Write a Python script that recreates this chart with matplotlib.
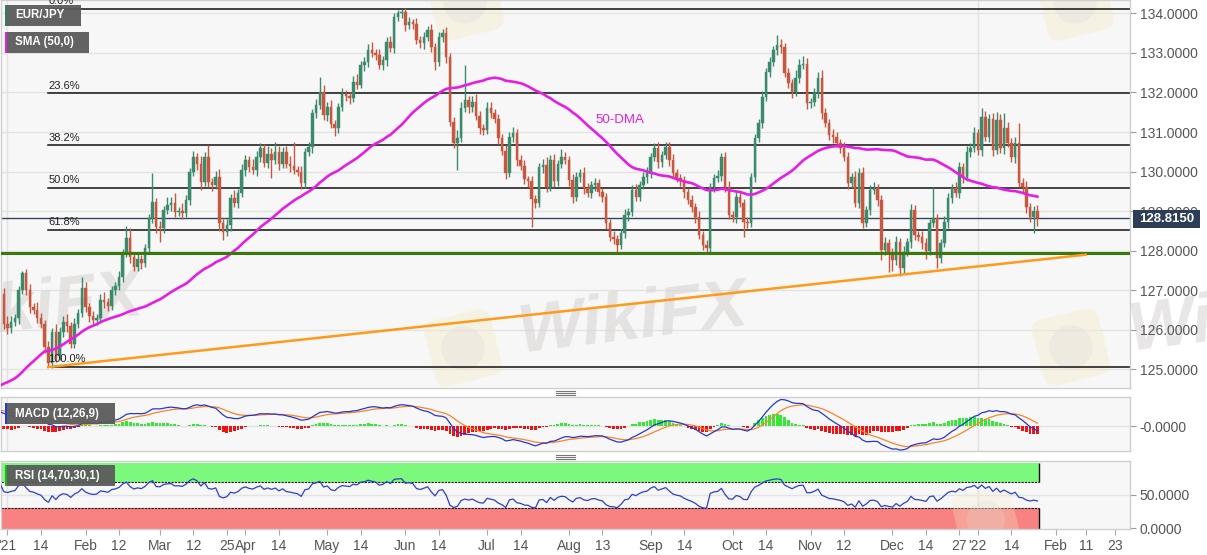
import numpy as np
import pandas as pd
import matplotlib
matplotlib.use("Agg")
import matplotlib.pyplot as plt
import matplotlib.transforms as mtransforms
from matplotlib.patches import Rectangle, FancyBboxPatch, Circle
from matplotlib.lines import Line2D

plt.rcParams['font.family'] = ['Liberation Sans', 'DejaVu Sans']

# ---------------- data ----------------
# warm-up closes (Oct 1 - Dec 30, 2020), only used for the indicators
prior_closes = [
    123.6, 123.8, 123.9, 124.2, 124.5, 124.3, 124.6, 124.5, 124.3, 124.2,
    123.9, 123.6, 123.5, 123.3, 123.6, 123.9, 124.1, 123.9, 123.7, 123.4,
    122.9, 122.0,
    122.2, 122.4, 122.0, 121.8, 121.7, 124.6, 124.5, 124.0, 123.5, 123.2,
    122.9, 122.7, 123.1, 123.4, 123.3, 123.6, 123.8, 124.2, 124.4, 124.3,
    124.6,
    124.9, 125.3, 125.6, 125.9, 126.2, 126.3, 126.0, 126.1, 126.2, 126.4,
    126.7, 126.5, 126.9, 126.3, 126.4, 126.1, 125.9, 126.1, 126.2, 126.3,
    126.4, 126.9,
]

# daily closes, Dec 31 2020 -> Jan 25 2022
closes = [
    126.15,
    126.05, 126.2, 126.3, 127.0, 127.43, 127.0, 126.58, 126.5, 126.3, 126.15,
    125.57, 125.16, 125.95, 125.35, 125.95, 126.2, 126.1, 125.65, 126.15, 126.42,
    127.05, 126.58, 126.35, 126.24, 126.3, 126.76, 126.7, 126.6, 127.0, 127.1,
    127.33, 127.94, 128.32, 127.85, 127.6, 127.78, 127.7, 128.06, 128.82, 129.22,
    128.6, 128.57, 129.03, 129.16, 129.2, 128.98, 129.0, 128.95, 129.28, 129.99,
    130.37, 130.2, 129.73, 130.37, 129.73, 129.66, 129.86, 128.7, 128.48, 128.65,
    129.33, 129.2, 129.45, 130.04, 130.3, 130.12, 130.05, 130.37, 130.6, 130.22,
    130.45, 130.3, 130.5, 130.2, 130.5, 130.2, 130.15, 130.05, 129.98, 129.7,
    130.5, 130.62, 131.48, 131.68, 132.0, 131.43, 131.62, 131.2, 131.1, 131.62,
    131.95, 131.9, 131.85, 132.26, 132.2, 132.7, 132.77, 133.07, 132.99, 132.94,
    132.69, 132.82, 133.27, 133.12, 133.9, 134.0, 134.03, 133.7, 133.78, 133.72,
    133.33, 133.25, 133.4, 133.57, 133.15, 132.77, 133.4, 133.5, 132.9, 131.26,
    130.72, 130.86, 131.6, 131.8, 131.62, 131.75, 131.4, 131.1, 131.05, 131.6,
    131.47, 131.33, 130.84, 130.53, 129.96, 130.87, 130.97, 130.29, 130.15, 129.8,
    129.75, 129.3, 129.2, 130.11, 130.16, 129.6, 130.3, 129.75, 130.2, 130.37,
    130.3, 129.79, 129.36, 129.86, 129.96, 129.58, 129.45, 129.66, 129.7, 129.48,
    129.35, 128.7, 128.35, 128.3, 128.14, 128.44, 128.9, 128.98, 129.54, 129.37,
    129.66, 129.86, 129.96, 130.37, 130.6, 130.24, 130.42, 130.62, 130.29, 129.96,
    129.83, 129.75, 129.48, 129.28, 129.1, 128.85, 128.4, 128.15, 128.07, 129.6,
    129.83, 129.9, 130.37, 129.6, 128.9, 128.85, 129.36, 129.2, 128.72, 128.7,
    129.86, 130.84, 131.24, 131.88, 132.51, 132.77, 133.07, 133.2, 133.14, 132.48,
    132.23, 132.0, 132.37, 132.69, 132.72, 131.73, 131.75, 131.98, 132.36, 131.48,
    131.22, 130.92, 130.87, 130.72, 130.6, 130.37, 129.71, 129.86, 129.2, 129.96,
    128.7, 129.03, 129.54, 129.58, 129.28, 128.02, 128.19, 127.94, 127.76, 128.22,
    127.56, 127.96, 128.22, 129.03, 128.39, 128.34, 128.19, 128.0, 128.7, 128.82,
    127.82, 128.19, 128.72, 129.33, 129.58, 129.45, 130.11, 129.86, 130.49, 130.6,
    130.98, 130.55, 131.37, 130.87, 131.33, 130.55, 131.3, 130.6, 131.1, 130.72,
    130.37, 130.72, 129.71, 129.6, 129.1, 128.85, 129.0, 128.815,
]

upper_wicks = [
    0.15,
    0.2, 0.15, 0.1, 0.1, 0.05, 0.12, 0.15, 0.1, 0.2, 0.12,
    0.1, 0.15, 0.1, 0.2, 0.12, 0.15, 0.2, 0.1, 0.15, 0.1,
    0.28, 0.15, 0.1, 0.12, 0.1, 0.15, 0.2, 0.1, 0.12, 0.1,
    0.15, 0.1, 0.3, 0.25, 0.1, 0.15, 0.1, 0.12, 0.1, 0.74,
    0.1, 0.15, 0.1, 0.2, 0.15, 0.25, 0.1, 0.2, 0.12, 0.1,
    0.15, 0.1, 0.2, 0.12, 0.3, 0.1, 0.15, 0.2, 0.1, 0.15,
    0.1, 0.2, 0.1, 0.15, 0.12, 0.1, 0.2, 0.15, 0.12, 0.1,
    0.2, 0.15, 0.25, 0.15, 0.12, 0.15, 0.2, 0.6, 0.1, 0.15,
    0.1, 0.12, 0.1, 0.15, 0.39, 0.2, 0.15, 0.2, 0.1, 0.12,
    0.15, 0.1, 0.12, 0.15, 0.2, 0.1, 0.12, 0.15, 0.2, 0.1,
    0.15, 0.1, 0.12, 0.15, 0.1, 0.08, 0.09, 0.1, 0.12, 0.08,
    0.15, 0.1, 0.12, 0.1, 0.15, 0.1, 0.12, 0.1, 0.15, 0.1,
    0.12, 0.2, 0.15, 0.89, 0.1, 0.15, 0.2, 0.12, 0.1, 0.15,
    0.15, 0.1, 0.12, 0.1, 0.15, 0.12, 0.15, 0.1, 0.12, 0.15,
    0.1, 0.15, 0.12, 0.1, 0.15, 0.2, 0.12, 0.15, 0.1, 0.2,
    0.12, 0.1, 0.15, 0.12, 0.1, 0.15, 0.12, 0.1, 0.15, 0.12,
    0.1, 0.12, 0.1, 0.15, 0.1, 0.12, 0.15, 0.1, 0.12, 0.15,
    0.1, 0.12, 0.15, 0.1, 0.12, 0.15, 0.1, 0.13, 0.12, 0.15,
    0.1, 0.12, 0.15, 0.1, 0.12, 0.1, 0.15, 0.1, 0.12, 0.1,
    0.12, 0.15, 0.1, 0.12, 0.15, 0.1, 0.12, 0.15, 0.1, 0.12,
    0.1, 0.12, 0.1, 0.15, 0.1, 0.12, 0.1, 0.25, 0.15, 0.12,
    0.15, 0.1, 0.2, 0.15, 0.2, 0.15, 0.1, 0.12, 0.15, 0.2,
    0.12, 0.1, 0.15, 0.12, 0.1, 0.15, 0.12, 0.1, 0.15, 0.12,
    0.15, 0.1, 0.12, 0.15, 0.1, 0.12, 0.15, 0.1, 0.12, 0.15,
    0.1, 0.15, 0.1, 0.15, 0.12, 0.1, 0.15, 0.12, 0.1, 0.78,
    0.12, 0.1, 0.15, 0.12, 0.1, 0.15, 0.12, 0.1, 0.15, 0.12,
    0.15, 0.1, 0.23, 0.15, 0.12, 0.15, 0.2, 0.15, 0.38, 0.15,
    0.12, 0.15, 0.5, 0.12, 0.15, 0.1, 0.12, 0.15,
]

lower_wicks = [
    0.12,
    0.15, 0.12, 0.1, 0.15, 0.1, 0.12, 0.15, 0.1, 0.12, 0.1,
    0.15, 0.09, 0.12, 0.15, 0.1, 0.12, 0.15, 0.1, 0.12, 0.1,
    0.1, 0.12, 0.15, 0.1, 0.12, 0.1, 0.15, 0.12, 0.1, 0.12,
    0.1, 0.12, 0.1, 0.15, 0.12, 0.1, 0.15, 0.12, 0.1, 0.12,
    0.15, 0.35, 0.12, 0.1, 0.15, 0.12, 0.1, 0.15, 0.1, 0.12,
    0.1, 0.15, 0.2, 0.1, 0.12, 0.15, 0.1, 0.2, 0.2, 0.12,
    0.15, 0.1, 0.12, 0.1, 0.15, 0.12, 0.1, 0.15, 0.12, 0.1,
    0.12, 0.45, 0.1, 0.15, 0.12, 0.1, 0.15, 0.12, 0.1, 0.15,
    0.12, 0.1, 0.15, 0.12, 0.1, 0.12, 0.15, 0.1, 0.2, 0.12,
    0.1, 0.12, 0.15, 0.1, 0.12, 0.1, 0.15, 0.12, 0.1, 0.12,
    0.1, 0.12, 0.15, 0.1, 0.12, 0.1, 0.12, 0.15, 0.1, 0.12,
    0.1, 0.12, 0.15, 0.1, 0.12, 0.2, 0.1, 0.12, 0.15, 0.1,
    0.12, 0.68, 0.12, 0.1, 0.15, 0.12, 0.1, 0.15, 0.12, 0.1,
    0.12, 0.1, 0.15, 0.12, 0.15, 0.1, 0.12, 0.15, 0.1, 0.12,
    0.15, 0.7, 0.12, 0.1, 0.15, 0.12, 0.1, 0.15, 0.12, 0.1,
    0.12, 0.15, 0.16, 0.1, 0.12, 0.15, 0.1, 0.12, 0.15, 0.1,
    0.12, 0.15, 0.1, 0.12, 0.17, 0.1, 0.12, 0.15, 0.1, 0.12,
    0.12, 0.1, 0.15, 0.12, 0.1, 0.15, 0.12, 0.1, 0.15, 0.12,
    0.1, 0.12, 0.15, 0.1, 0.12, 0.15, 0.1, 0.12, 0.12, 0.1,
    0.12, 0.1, 0.15, 0.12, 0.1, 0.12, 0.15, 0.1, 0.37, 0.12,
    0.1, 0.12, 0.1, 0.15, 0.1, 0.12, 0.1, 0.12, 0.15, 0.1,
    0.12, 0.15, 0.1, 0.12, 0.1, 0.15, 0.12, 0.1, 0.12, 0.15,
    0.1, 0.12, 0.15, 0.1, 0.12, 0.1, 0.15, 0.12, 0.1, 0.12,
    0.13, 0.1, 0.12, 0.1, 0.15, 0.26, 0.12, 0.49, 0.26, 0.12,
    0.21, 0.12, 0.1, 0.15, 0.12, 0.1, 0.15, 0.2, 0.12, 0.1,
    0.26, 0.12, 0.1, 0.15, 0.12, 0.1, 0.12, 0.15, 0.1, 0.12,
    0.1, 0.12, 0.15, 0.1, 0.12, 0.15, 0.1, 0.12, 0.15, 0.1,
    0.12, 0.15, 0.1, 0.12, 0.15, 0.12, 0.4, 0.2,
]

fib_high = 134.12
fib_low = 125.07
fib_ratios = [0.0, 0.236, 0.382, 0.5, 0.618, 1.0]
fib_labels = ["0.0%", "23.6%", "38.2%", "50.0%", "61.8%", "100.0%"]
fib_start_date = "2021-01-18"
support_level = 127.95
trend_dates = ["2021-01-18", "2022-02-11"]
trend_prices = [125.06, 127.9]
last_price = 128.815
price_ticks = [125, 126, 127, 128, 129, 130, 131, 132, 133, 134]

tick_dates = ['2021-01-01', '2021-01-14', '2021-02-01', '2021-02-12', '2021-03-01',
              '2021-03-12', '2021-03-25', '2021-04-01', '2021-04-14', '2021-05-03',
              '2021-05-14', '2021-06-01', '2021-06-14', '2021-07-01', '2021-07-14',
              '2021-08-02', '2021-08-13', '2021-09-01', '2021-09-14', '2021-10-01',
              '2021-10-14', '2021-11-01', '2021-11-12', '2021-12-01', '2021-12-14',
              '2021-12-27', '2022-01-03', '2022-01-14', '2022-02-01', '2022-02-11',
              '2022-02-23']
tick_labels = ["'21", "14", "Feb", "12", "Mar", "12", "25", "Apr", "14", "May",
               "14", "Jun", "14", "Jul", "14", "Aug", "13", "Sep", "14", "Oct",
               "14", "Nov", "12", "Dec", "14", "27", "'22", "14", "Feb", "11", "23"]

# ---------------- series ----------------
dates = pd.bdate_range("2020-10-01", "2022-03-31")
origin = dates.get_loc(pd.Timestamp("2021-01-01"))


def xpos(d):
    return dates.get_loc(pd.Timestamp(d)) - origin


all_close = pd.Series(prior_closes + closes, dtype=float)
n_prior = len(prior_closes)
xs_all = np.arange(len(all_close)) - origin
c = np.array(closes)
o = np.array(all_close.shift(1).iloc[n_prior:])
xv = xs_all[n_prior:]
hi = np.maximum(o, c) + np.array(upper_wicks)
lo = np.minimum(o, c) - np.array(lower_wicks)

sma = all_close.rolling(50).mean()
ema12 = all_close.ewm(span=12, adjust=False).mean()
ema26 = all_close.ewm(span=26, adjust=False).mean()
macd = ema12 - ema26
signal = macd.ewm(span=9, adjust=False).mean()
hist = macd - signal
delta = all_close.diff()
gain = delta.clip(lower=0).ewm(alpha=1 / 14, adjust=False).mean()
loss = (-delta.clip(upper=0)).ewm(alpha=1 / 14, adjust=False).mean()
rsi = 100 - 100 / (1 + gain / loss)

# ---------------- figure ----------------
W, H = 1207, 555
fig = plt.figure(figsize=(W / 100, H / 100), dpi=100)
fig.patch.set_facecolor("white")


def fx(x):
    return x / W


def fy(y):
    return 1 - y / H


x_left, x_right = -1.88, 301.9
PANEL_BG = "#f7f7f7"
SPINE = "#cfcfcf"
GRID = "#e3e3e3"
TXT = "#555555"

ax = fig.add_axes([fx(0.5), fy(388), (1130 - 0.5) / W, 388 / H])
ax2 = fig.add_axes([fx(0.5), fy(451), (1130 - 0.5) / W, 54 / H])
ax3 = fig.add_axes([fx(0.5), fy(529), (1130 - 0.5) / W, 68 / H])

for a in (ax, ax2, ax3):
    a.set_facecolor(PANEL_BG)
    a.set_xlim(x_left, x_right)
    for s in a.spines.values():
        s.set_color(SPINE)
        s.set_linewidth(1)
    a.yaxis.tick_right()
    a.tick_params(axis="y", which="both", length=4, color="#999999",
                  labelcolor=TXT, labelsize=10, pad=3, left=False)
    a.tick_params(axis="x", bottom=False, labelbottom=False)
    for d in ("2021-01-01", "2022-01-03"):
        a.axvline(xpos(d), color="#e2e2e2", lw=1, zorder=0.3)

# ---- main panel ----
ax.set_ylim(124.531, 134.336)
ax.set_yticks(price_ticks)
ax.set_yticklabels([f"{v:.4f}" for v in price_ticks])
for v in price_ticks:
    ax.axhline(v, color=GRID, lw=1, zorder=0.3)


# watermarks (pixel positions in the picture, rotated logo squares + text)
def wm_logo(a, cx, cy, size=68, alpha=0.4, z=0.35):
    t = mtransforms.Affine2D().rotate_deg_around(cx, H - cy, 14)
    a.add_artist(FancyBboxPatch((cx - size / 2, H - cy - size / 2), size, size,
                                boxstyle="round,pad=0,rounding_size=12",
                                fc="#f6ebc6", ec="none", alpha=alpha,
                                transform=t, zorder=z))
    a.add_artist(Circle((cx, H - cy), size * 0.32, fc="#dedbd7", ec="none",
                        alpha=alpha * 0.8, transform=t, zorder=z + 0.01))


def wm_text(a, cx, cy, z=0.4):
    a.text(fx(cx), fy(cy), "WikiFX", transform=fig.transFigure, fontsize=50,
           fontweight="bold", fontstyle="italic", color="#d6d1d1", alpha=0.55,
           rotation=7, ha="center", va="center", zorder=z, clip_on=False)


wm_logo(ax, 463, 348)
wm_logo(ax, 1071, 347)
wm_logo(ax, 465, 2)
wm_logo(ax, 1075, 2)
wm_text(ax, 633, 320)
wm_text(ax, 28, 310)
wm_text(ax, 1243, 318)

# candles
up_col, dn_col = "#3b8a6c", "#c8573f"
cols = np.where(c >= o, up_col, dn_col)
ax.vlines(xv, lo, hi, colors=cols, lw=1, zorder=3)
body_h = np.maximum(np.abs(c - o), 0.02)
ax.bar(xv, body_h, bottom=np.minimum(o, c), width=0.68, color=cols,
       edgecolor=cols, linewidth=0.3, zorder=3)

# SMA 50
ax.plot(xs_all, sma, color="#e41fe4", lw=1.9, zorder=4)
ax.text(164.8, 131.3, "50-DMA", color="#e41fe4", fontsize=9.5, ha="center",
        va="center", zorder=5)

# fibonacci levels
fx0 = xpos(fib_start_date)
for r, lab in zip(fib_ratios, fib_labels):
    lvl = fib_high - r * (fib_high - fib_low)
    ax.plot([fx0, x_right], [lvl, lvl], color="#111111", lw=1.1, zorder=2)
    ax.text(fx0, lvl + 0.06, lab, fontsize=8, color="#222222", ha="left",
            va="bottom", zorder=5, clip_on=True)

# last price line, support and trend line
ax.axhline(last_price, color="#34465e", lw=1, zorder=2)
ax.axhline(support_level, color="#3a7a0c", lw=2.2, zorder=4)
ax.plot([xpos(d) for d in trend_dates], trend_prices, color="#ff9a1a",
        lw=1.8, zorder=4)

# ---- MACD panel (auto range fit like the platform) ----
vis = xs_all >= x_left
vals = np.concatenate([macd[vis].values, signal[vis].values, hist[vis].values])
mx, mn = float(vals.max()), float(vals.min())
k = (mx - mn) / (450.0 - 399.5)
ax2.set_ylim(mn - 1.0 * k, mx + 2.5 * k)
ax2.axhline(0, color=GRID, lw=1, zorder=0.3)
ax2.set_yticks([0])
ax2.set_yticklabels(["-0.0000"])
hcols = np.where(hist.values >= 0, "#35e835", "#ee1414")
ax2.bar(xs_all, hist.values, width=0.75, color=hcols, zorder=2)
ax2.plot(xs_all, signal, color="#ff8226", lw=0.9, zorder=3)
ax2.plot(xs_all, macd, color="#2438d0", lw=0.9, zorder=4)

# ---- RSI panel ----
ax3.set_ylim(-1.5, 101.5)
ax3.set_yticks([0, 50])
ax3.set_yticklabels(["0.0000", "50.0000"])
ax3.axhline(50, color=GRID, lw=1, zorder=0.3)
x_end = xv[-1] + 0.5
ax3.add_patch(Rectangle((x_left, 70), x_end - x_left, 29, fc="#7cf87c",
                        ec="none", zorder=1))
ax3.add_patch(Rectangle((x_left, -1.5), x_end - x_left, 31.5, fc="#f88282",
                        ec="none", zorder=1))
ax3.plot([x_left, x_end], [70, 70], color="#111111", lw=0.8, ls=(0, (2, 1)), zorder=2)
ax3.plot([x_left, x_end], [30, 30], color="#111111", lw=0.8, ls=(0, (2, 1)), zorder=2)
ax3.vlines([x_end, x_end], [70, -1.5], [99, 30], colors="#111111", lw=1, zorder=2)
ax3.plot(xs_all, rsi, color="#2a40cc", lw=0.9, zorder=3)
wm_logo(ax3, 986, 520, size=60, alpha=0.3, z=2.5)

ax3.tick_params(axis="x", bottom=True, labelbottom=True, length=4, color="#aaaaaa",
                labelcolor=TXT, labelsize=10, pad=3)
ax3.set_xticks([xpos(d) for d in tick_dates])
ax3.set_xticklabels(tick_labels)


# ---- legend boxes ----
def legend_box(x0, y0, w, h, text, strip):
    fig.add_artist(Rectangle((fx(x0), fy(y0 + h)), w / W, h / H,
                             transform=fig.transFigure, fc="#5b5b5b",
                             ec="none", alpha=0.95, zorder=6))
    fig.add_artist(Rectangle((fx(x0), fy(y0 + h)), 2.2 / W, h / H,
                             transform=fig.transFigure, fc=strip,
                             ec="none", zorder=7))
    fig.text(fx(x0 + 10), fy(y0 + h / 2), text, color="white", fontsize=8.3,
             fontweight="bold", ha="left", va="center", zorder=8)


legend_box(5, 5, 76, 21, "EUR/JPY", "#2f7f66")
legend_box(5, 32, 84, 21, "SMA (50,0)", "#e41fe4")
legend_box(5, 403, 110, 21, "MACD (12,26,9)", "#1f3fd0")
legend_box(5, 465, 110, 21, "RSI (14,70,30,1)", "#22b022")

# last price tag
fig.add_artist(Rectangle((fx(1133), fy(228)), 67 / W, 18 / H,
                         transform=fig.transFigure, fc="#2b3d57", ec="none",
                         zorder=9))
fig.text(fx(1166.5), fy(219), "128.8150", color="white", fontsize=9.5,
         fontweight="bold", ha="center", va="center", zorder=10)

# panel separator handles
for yy in (393, 457):
    for dy in (-2, 0, 2):
        fig.add_artist(Line2D([fx(556), fx(575)], [fy(yy + dy), fy(yy + dy)],
                              transform=fig.transFigure, color="#777777",
                              lw=0.8, zorder=6))

fig.savefig("out.png", dpi=100, facecolor="white")
